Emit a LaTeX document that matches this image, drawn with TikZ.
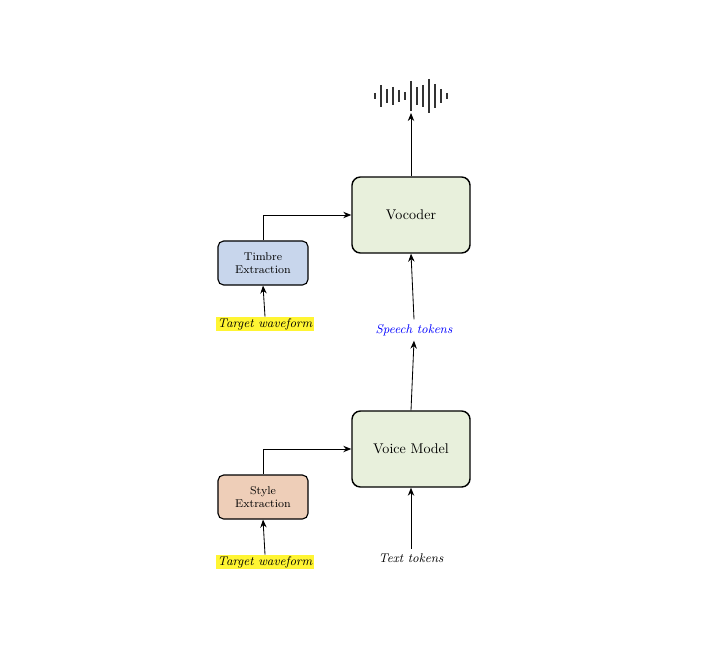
\documentclass[tikz,border=0pt]{standalone}
\usepackage{tikz}
\usetikzlibrary{arrows.meta, positioning}
\begin{document}
\begin{tikzpicture}[
    x=0.025cm, y=-0.025cm,
    font=\small,
    bigbox/.style={draw, line width=1pt, rounded corners=6pt, fill=green!10!white!92!black!4,
        minimum width=2.95cm, minimum height=1.9cm, font=\normalsize},
    smallbox/.style={draw, line width=0.8pt, rounded corners=4pt,
        minimum width=2.25cm, minimum height=1.1cm, align=center, font=\footnotesize},
    wave/.style={fill=yellow!80!white, inner sep=1pt, font=\small\itshape},
    arr/.style={-{Stealth[length=2mm, width=1.6mm]}, line width=0.6pt}
]
    \useasboundingbox (0,0) rectangle (720,656);

    % --- Boxes ---
    \node[bigbox, fill={rgb,255:red,232;green,240;blue,220}] (vocoder) at (411,215) {Vocoder};
    \node[bigbox, fill={rgb,255:red,232;green,240;blue,220}] (voice) at (411,449) {Voice Model};
    \node[smallbox, fill={rgb,255:red,200;green,214;blue,236}] (timbre) at (263,263) {Timbre\\Extraction};
    \node[smallbox, fill={rgb,255:red,238;green,206;blue,184}] (style) at (263,497) {Style\\Extraction};

    % --- Labels ---
    \node[wave] (wave1) at (265,324) {Target waveform};
    \node[wave] (wave2) at (265,562) {Target waveform};
    \node[font=\small\itshape, text=blue] (speech) at (414,330) {Speech tokens};
    \node[font=\small\itshape] (text) at (411,558) {Text tokens};

    % --- Waveform ---
    \coordinate (audio) at (411,113);
    \foreach \dx/\h in {-34/3, -28/11, -22/7, -16/9, -10/6, -4/4, 2/15, 8/9, 14/11, 20/17, 26/12, 32/7, 38/3}
        \draw[line width=1.4pt, black!80] (411+\dx-2,96-\h) -- (411+\dx-2,96+\h);

    % --- Connectors ---
    \draw[arr] (vocoder.north) -- (audio);
    \draw[arr] (speech.north) -- (vocoder.south);
    \draw[arr] (voice.north) -- (speech.south);
    \draw[arr] (text.north) -- (voice.south);
    \draw[arr] (wave1.north) -- (timbre.south);
    \draw[arr] (wave2.north) -- (style.south);
    \draw[arr] (timbre.north) |- (vocoder.west);
    \draw[arr] (style.north) |- (voice.west);
\end{tikzpicture}
\end{document}
